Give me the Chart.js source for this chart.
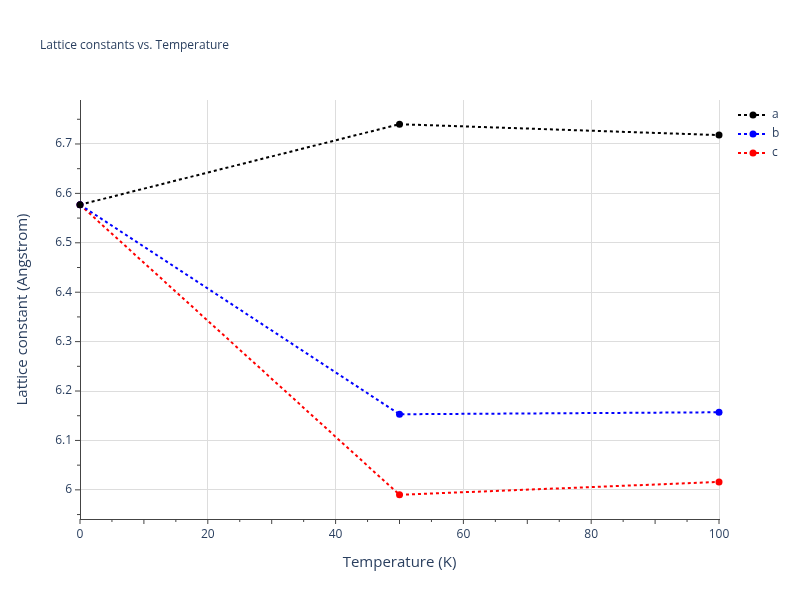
<!DOCTYPE html>
<html><head><script src="https://cdn.jsdelivr.net/npm/chart.js"></script>
<style>body{margin:0;background:#fff}#w{width:800px;height:600px}</style></head>
<body><div id="w"><canvas id="c"></canvas></div>
<script>
const temps=[0,50,100];
const aVals=[6.577,6.740,6.718];
const bVals=[6.577,6.153,6.157];
const cVals=[6.577,5.990,6.016];
const yTicks=[6.0,6.1,6.2,6.3,6.4,6.5,6.6,6.7];
const names=['a','b','c'];
const colors=['#000000','#0000ff','#ff0000'];
const txt='#2a3f5f';
const ds=[aVals,bVals,cVals].map((v,i)=>({label:names[i],data:temps.map((t,j)=>({x:t,y:v[j]})),borderColor:colors[i],backgroundColor:colors[i],borderWidth:2,borderDash:[3,3],pointRadius:3.5,pointBorderWidth:0,clip:false}));
const deco={id:'deco',afterDraw(ch){const c=ch.ctx;c.save();c.fillStyle=txt;c.font='12px "Open Sans", sans-serif';c.textBaseline='middle';c.fillText('Lattice constants vs. Temperature',40,46);
ch.data.datasets.forEach((d,i)=>{const y=115+i*19;c.strokeStyle=d.borderColor;c.lineWidth=2;c.setLineDash([3,3]);c.beginPath();c.moveTo(738,y);c.lineTo(768,y);c.stroke();c.setLineDash([]);c.fillStyle=d.borderColor;c.beginPath();c.arc(753,y,3.5,0,7);c.fill();c.fillStyle=txt;c.fillText(d.label,772,y);});
const xs=ch.scales.x,ys=ch.scales.y;
c.font='15px "Open Sans", sans-serif';c.textAlign='center';c.fillStyle=txt;
c.fillText('Temperature (K)',(xs.left+xs.right)/2,563);
c.save();c.translate(23,(ys.top+ys.bottom)/2);c.rotate(-Math.PI/2);c.fillText('Lattice constant (Angstrom)',0,0);c.restore();
c.strokeStyle='#444';c.lineWidth=1;c.beginPath();
for(let t=0;t<=100;t+=5){const p=xs.getPixelForValue(t);c.moveTo(p,ys.bottom);c.lineTo(p,ys.bottom+(t%10?3:5));}
for(let v=5.95;v<=6.78;v+=0.05){const p=ys.getPixelForValue(v);c.moveTo(xs.left,p);c.lineTo(xs.left-(Math.round(v*100)%10?3:5),p);}
c.stroke();c.restore();}};
new Chart(document.getElementById('c'),{type:'line',data:{datasets:ds},plugins:[deco],
options:{responsive:true,maintainAspectRatio:false,animation:false,layout:{padding:{top:100,right:81,left:0,bottom:0}},
plugins:{legend:{display:false},tooltip:{enabled:false}},
scales:{x:{type:'linear',min:0,max:100,afterFit(s){s.height=81},ticks:{stepSize:20,color:txt,font:{size:12,family:'"Open Sans", sans-serif'},padding:8},grid:{color:'#dddddd',drawTicks:false,lineWidth:1},border:{color:'#444'}},
y:{min:5.941,max:6.789,afterFit(s){s.width=80},afterBuildTicks(s){s.ticks=yTicks.map(v=>({value:v}))},ticks:{color:txt,font:{size:12,family:'"Open Sans", sans-serif'},padding:8,callback:v=>String(Math.round(v*10)/10)},grid:{color:'#dddddd',drawTicks:false},border:{color:'#444'}}}}});
</script></body></html>
